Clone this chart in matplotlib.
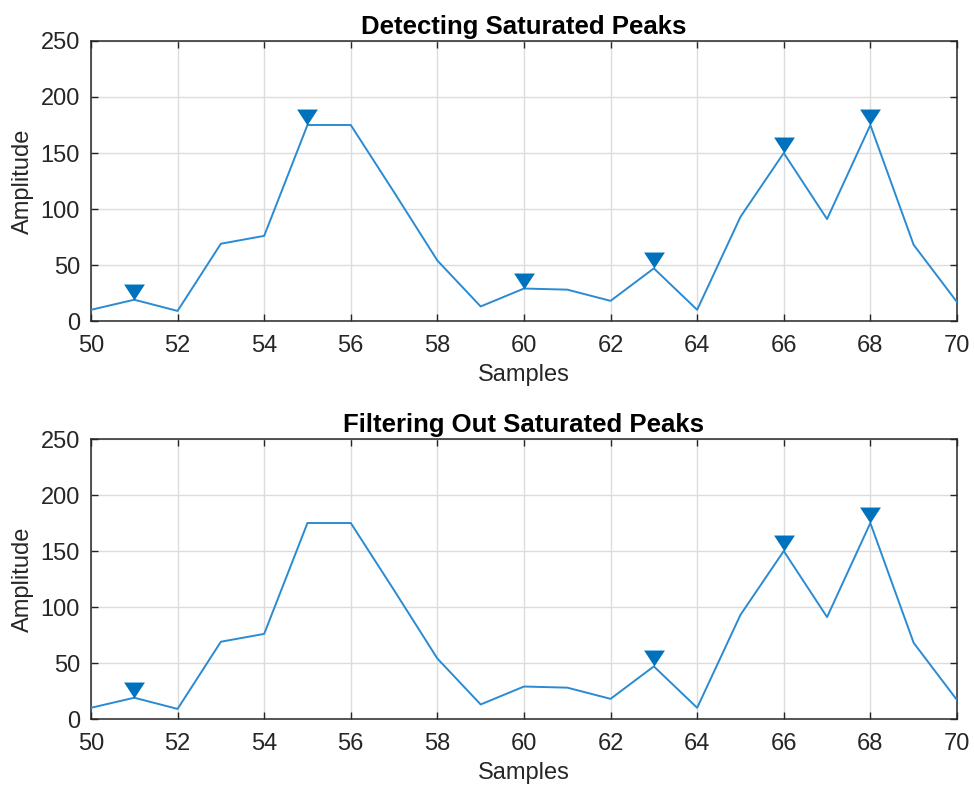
import matplotlib
matplotlib.use("Agg")
import matplotlib.pyplot as plt
import numpy as np

plt.rcParams.update({
    "font.family": ["Liberation Sans", "DejaVu Sans"],
    "text.color": "#262626",
    "axes.labelcolor": "#262626",
    "xtick.color": "#262626",
    "ytick.color": "#262626",
})

# sample index and amplitude
samples = list(range(50, 71))
amplitude = [10, 19, 9, 69, 76, 175, 175, 115, 54, 13, 29, 28, 18, 47, 10,
             93, 150, 91, 175, 68, 17]

# peaks found with saturated ones included / filtered out
peaks_all = [51, 55, 60, 63, 66, 68]
peaks_filtered = [51, 63, 66, 68]

LINE = "#2a8bd3"
MARK = "#0072BD"
# down-pointing triangle whose tip sits on the data point
TRI = [(-0.65, 1.0), (0.65, 1.0), (0.0, 0.0), (-0.65, 1.0)]


def draw(ax, peaks, title):
    ax.plot(samples, amplitude, color=LINE, linewidth=1.4, zorder=3)
    py = [amplitude[samples.index(p)] for p in peaks]
    ax.plot(peaks, py, linestyle="none", marker=TRI, markersize=23,
            color=MARK, markeredgewidth=0, zorder=4)
    ax.set_xlim(50, 70)
    ax.set_ylim(0, 250)
    ax.set_xticks(np.arange(50, 71, 2))
    ax.set_yticks(np.arange(0, 251, 50))
    ax.grid(True, color="#dcdcdc", linewidth=1.0, zorder=0)
    ax.tick_params(direction="in", length=5, width=1.0, top=True,
                   right=True, labelsize=17)
    ax.tick_params(axis="x", pad=10)
    ax.tick_params(axis="y", pad=8)
    for s in ax.spines.values():
        s.set_color("#262626")
        s.set_linewidth(1.1)
    ax.set_xlabel("Samples", fontsize=17, labelpad=5)
    ax.set_ylabel("Amplitude", fontsize=17, labelpad=5)
    ax.set_title(title, fontsize=18.5, fontweight="bold", color="#000000",
                 pad=5)


fig = plt.figure(figsize=(9.74, 7.93), dpi=100)
ax1 = fig.add_axes([0.0934, 0.5952, 0.8891, 0.3531])
ax2 = fig.add_axes([0.0934, 0.0933, 0.8891, 0.3531])
draw(ax1, peaks_all, "Detecting Saturated Peaks")
draw(ax2, peaks_filtered, "Filtering Out Saturated Peaks")

fig.savefig("out.png", dpi=100)
